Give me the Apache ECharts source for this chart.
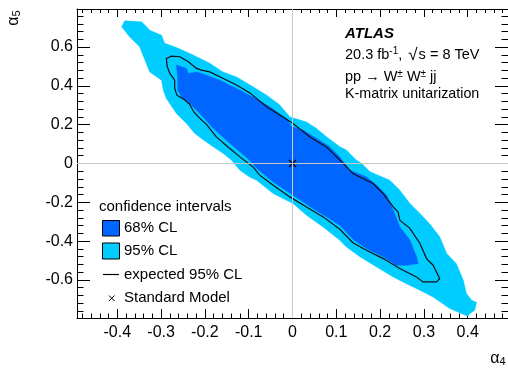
<!DOCTYPE html>
<html>
<head>
<meta charset="utf-8">
<script src="https://cdn.jsdelivr.net/npm/echarts@6/dist/echarts.min.js"></script>
<style>
html, body { margin: 0; padding: 0; background: #ffffff; }
#chart { width: 508px; height: 368px; }
</style>
</head>
<body>
<div id="chart"></div>
<script>
// axis ranges and tick labels
const xRange = [-0.492, 0.492]
const yRange = [-0.796, 0.796]
const xTickLabels = [-0.4, -0.3, -0.2, -0.1, 0, 0.1, 0.2, 0.3, 0.4]
const yTickLabels = [-0.6, -0.4, -0.2, 0, 0.2, 0.4, 0.6]

// observed 95% CL region (alpha4, alpha5)
const obs95 = [
  [-0.390, 0.704], [-0.383, 0.735], [-0.345, 0.730], [-0.337, 0.713], [-0.326, 0.687],
  [-0.299, 0.661], [-0.292, 0.619], [-0.269, 0.601], [-0.242, 0.575], [-0.219, 0.550],
  [-0.189, 0.516], [-0.159, 0.472], [-0.128, 0.446], [-0.090, 0.395], [-0.059, 0.352],
  [-0.029, 0.301], [-0.006, 0.240], [0.032, 0.214], [0.055, 0.180], [0.078, 0.137],
  [0.108, 0.086], [0.123, 0.069], [0.146, 0.017], [0.158, 0.000], [0.177, -0.043],
  [0.222, -0.086], [0.245, -0.138], [0.268, -0.206], [0.291, -0.258], [0.314, -0.313],
  [0.336, -0.378], [0.352, -0.464], [0.374, -0.516], [0.390, -0.602], [0.397, -0.670],
  [0.409, -0.705], [0.420, -0.715], [0.416, -0.756], [0.405, -0.773], [0.400, -0.787],
  [0.359, -0.747], [0.321, -0.688], [0.291, -0.653], [0.260, -0.619], [0.230, -0.585],
  [0.192, -0.533], [0.154, -0.481], [0.123, -0.430], [0.108, -0.395], [0.070, -0.327],
  [0.032, -0.267], [0.001, -0.206], [-0.044, -0.155], [-0.082, -0.086], [-0.098, -0.069],
  [-0.120, -0.035], [-0.139, 0.017], [-0.158, 0.052], [-0.181, 0.086], [-0.208, 0.129],
  [-0.223, 0.155], [-0.242, 0.206], [-0.265, 0.258], [-0.288, 0.335], [-0.295, 0.378],
  [-0.299, 0.429], [-0.326, 0.472], [-0.337, 0.533], [-0.349, 0.601], [-0.372, 0.653]
]

// observed 68% CL region
const obs68 = [
  [-0.265, 0.507], [-0.242, 0.490], [-0.238, 0.464], [-0.219, 0.472], [-0.196, 0.455],
  [-0.166, 0.429], [-0.128, 0.387], [-0.090, 0.342], [-0.052, 0.292], [-0.014, 0.232],
  [-0.002, 0.189], [0.024, 0.172], [0.055, 0.129], [0.085, 0.086], [0.108, 0.033],
  [0.131, -0.035], [0.169, -0.069], [0.192, -0.112], [0.215, -0.163], [0.230, -0.241],
  [0.245, -0.327], [0.268, -0.395], [0.283, -0.481], [0.287, -0.516], [0.260, -0.524],
  [0.237, -0.524], [0.207, -0.481], [0.169, -0.438], [0.138, -0.390], [0.108, -0.318],
  [0.047, -0.232], [0.001, -0.163], [-0.044, -0.095], [-0.082, -0.024], [-0.098, 0.017],
  [-0.120, 0.060], [-0.151, 0.120], [-0.181, 0.182], [-0.212, 0.259], [-0.235, 0.311],
  [-0.253, 0.343], [-0.262, 0.378], [-0.262, 0.443]
]

// expected 95% CL contour
const exp95 = [
  [-0.288, 0.541], [-0.276, 0.553], [-0.257, 0.550], [-0.238, 0.524], [-0.219, 0.490],
  [-0.208, 0.481], [-0.189, 0.472], [-0.158, 0.438], [-0.128, 0.404], [-0.098, 0.365],
  [-0.059, 0.292], [-0.022, 0.240], [0.001, 0.206], [0.040, 0.137], [0.078, 0.084],
  [0.116, 0.000], [0.138, -0.052], [0.184, -0.103], [0.207, -0.155], [0.230, -0.224],
  [0.241, -0.250], [0.245, -0.292], [0.268, -0.334], [0.291, -0.412], [0.306, -0.490],
  [0.321, -0.524], [0.329, -0.560], [0.336, -0.593], [0.329, -0.610], [0.298, -0.610],
  [0.283, -0.585], [0.245, -0.541], [0.207, -0.490], [0.169, -0.447], [0.138, -0.408],
  [0.108, -0.339], [0.070, -0.275], [0.032, -0.224], [-0.006, -0.172], [-0.044, -0.112],
  [-0.075, -0.060], [-0.090, -0.018], [-0.120, 0.034], [-0.143, 0.077], [-0.174, 0.137],
  [-0.196, 0.200], [-0.212, 0.234], [-0.225, 0.264], [-0.235, 0.306], [-0.248, 0.331],
  [-0.264, 0.352], [-0.269, 0.388], [-0.269, 0.429], [-0.280, 0.464], [-0.286, 0.498]
]

// Standard Model point
const smPoint = [0, 0]

const font = '"Liberation Sans", Arial, Helvetica, sans-serif'
const lightBlue = '#00ccff'
const darkBlue = '#0066ff'

function tickFormatter (labels) {
  return function (v) {
    const hit = labels.find(l => Math.abs(l - v) < 1e-6)
    return hit === undefined ? '' : String(hit)
  }
}

function areaSeries (name, pts, color) {
  return {
    name: name,
    type: 'custom',
    coordinateSystem: 'cartesian2d',
    silent: true,
    data: pts,
    renderItem: function (params, api) {
      if (params.dataIndex !== 0) return null
      return {
        type: 'polygon',
        shape: { points: pts.map(p => api.coord(p)) },
        style: { fill: color, stroke: color, lineWidth: 0.5 }
      }
    }
  }
}

function axisX (position, withLabels, tickLen) {
  return {
    type: 'value',
    position: position,
    min: xRange[0],
    max: xRange[1],
    splitNumber: 10,
    axisLine: { show: true, onZero: false, lineStyle: { color: '#000', width: 1 } },
    axisTick: { show: true, inside: true, length: tickLen, lineStyle: { color: '#000' } },
    minorTick: { show: true, splitNumber: 5, length: tickLen / 2, lineStyle: { color: '#000' } },
    splitLine: { show: false },
    minorSplitLine: { show: false },
    axisLabel: {
      show: withLabels,
      margin: 7,
      fontSize: 16,
      fontFamily: font,
      color: '#000',
      showMinLabel: false,
      showMaxLabel: false,
      formatter: tickFormatter(xTickLabels)
    }
  }
}

function axisY (position, withLabels, tickLen) {
  return {
    type: 'value',
    position: position,
    min: yRange[0],
    max: yRange[1],
    splitNumber: 8,
    axisLine: { show: true, onZero: false, lineStyle: { color: '#000', width: 1 } },
    axisTick: { show: true, inside: true, length: tickLen, lineStyle: { color: '#000' } },
    minorTick: { show: true, splitNumber: 5, length: tickLen / 2, lineStyle: { color: '#000' } },
    splitLine: { show: false },
    minorSplitLine: { show: false },
    axisLabel: {
      show: withLabels,
      margin: 4,
      fontSize: 16,
      fontFamily: font,
      color: '#000',
      showMinLabel: false,
      showMaxLabel: false,
      formatter: tickFormatter(yTickLabels)
    }
  }
}

function txt (x, y, text, size, extra) {
  return {
    type: 'text',
    x: x,
    y: y,
    silent: true,
    style: Object.assign({
      text: text,
      fontFamily: font,
      fontSize: size,
      fill: '#000',
      align: 'left',
      verticalAlign: 'middle'
    }, extra || {})
  }
}

const supStyle = { fontSize: 10, fontFamily: font, verticalAlign: 'top', fill: '#000' }
const subStyle = { fontSize: 11, fontFamily: font, verticalAlign: 'bottom', fill: '#000' }
const rootStyle = { fontSize: 17, fontFamily: font, fill: '#000', padding: [0, 1, 0, 2] }

const chart = echarts.init(document.getElementById('chart'), null, { renderer: 'canvas' })
chart.setOption({
  animation: false,
  backgroundColor: '#ffffff',
  grid: { left: 77, top: 9, width: 431, height: 309, outerBoundsMode: 'none', containLabel: false },
  xAxis: [axisX('bottom', true, 9), axisX('top', false, 8)],
  yAxis: [axisY('left', true, 13), axisY('right', false, 13)],
  series: [
    areaSeries('95% CL', obs95, lightBlue),
    Object.assign(areaSeries('68% CL', obs68, darkBlue), {
      markLine: {
        silent: true,
        symbol: 'none',
        label: { show: false },
        lineStyle: { color: '#c8c8c8', width: 1, type: 'solid' },
        data: [{ xAxis: 0 }, { yAxis: 0 }]
      }
    }),
    {
      name: 'expected 95% CL',
      type: 'custom',
      coordinateSystem: 'cartesian2d',
      silent: true,
      data: exp95,
      renderItem: function (params, api) {
        if (params.dataIndex !== 0) return null
        return {
          type: 'polygon',
          shape: { points: exp95.map(p => api.coord(p)) },
          style: { fill: 'none', stroke: '#111', lineWidth: 1.2 }
        }
      }
    },
    {
      name: 'Standard Model',
      type: 'custom',
      coordinateSystem: 'cartesian2d',
      silent: true,
      data: [smPoint],
      renderItem: function (params, api) {
        const c = api.coord(smPoint)
        const s = 3.5
        return {
          type: 'group',
          children: [
            { type: 'line', shape: { x1: c[0] - s, y1: c[1] - s, x2: c[0] + s, y2: c[1] + s }, style: { stroke: '#000', lineWidth: 1.2 } },
            { type: 'line', shape: { x1: c[0] - s, y1: c[1] + s, x2: c[0] + s, y2: c[1] - s }, style: { stroke: '#000', lineWidth: 1.2 } }
          ]
        }
      }
    }
  ],
  graphic: [
    // ATLAS label block
    txt(345, 34, 'ATLAS', 15, { fontWeight: 'bold', fontStyle: 'italic' }),
    txt(345, 55, '20.3 fb{sup|-1}, {root|√}s = 8 TeV', 14.5, { rich: { sup: supStyle, root: rootStyle } }),
    txt(345, 76.5, 'pp → W{sup|±} W{sup|±} jj', 14.5, { rich: { sup: supStyle } }),
    txt(345, 94, 'K-matrix unitarization', 14.3),
    // legend
    txt(99, 206.5, 'confidence intervals', 15),
    { type: 'rect', silent: true, shape: { x: 102.5, y: 220.5, width: 17, height: 15.5 }, style: { fill: darkBlue, stroke: '#000', lineWidth: 1 } },
    txt(124, 228, '68% CL', 15),
    { type: 'rect', silent: true, shape: { x: 102.5, y: 243, width: 17, height: 16 }, style: { fill: lightBlue, stroke: '#000', lineWidth: 1 } },
    txt(124, 250.5, '95% CL', 15),
    { type: 'line', silent: true, shape: { x1: 103, y1: 274.5, x2: 119, y2: 274.5 }, style: { stroke: '#000', lineWidth: 1.2 } },
    txt(124, 275, 'expected 95% CL', 15),
    { type: 'line', silent: true, shape: { x1: 109, y1: 295.5, x2: 114.5, y2: 301 }, style: { stroke: '#000', lineWidth: 1 } },
    { type: 'line', silent: true, shape: { x1: 109, y1: 301, x2: 114.5, y2: 295.5 }, style: { stroke: '#000', lineWidth: 1 } },
    txt(124, 298, 'Standard Model', 15),
    // axis titles
    txt(498, 359, 'α{sub|4}', 16, { align: 'center', rich: { sub: subStyle } }),
    Object.assign(txt(14, 18, 'α{sub|5}', 16, { align: 'center', rich: { sub: subStyle } }), { rotation: Math.PI / 2 })
  ]
})
</script>
</body>
</html>
